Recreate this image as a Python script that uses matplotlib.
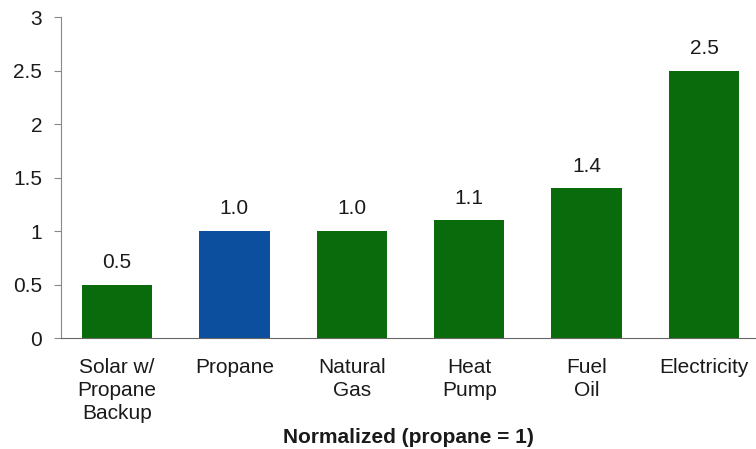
import numpy as np
import matplotlib
matplotlib.use("Agg")
from matplotlib import pyplot as plt

categories = ["Solar w/\nPropane\nBackup", "Propane", "Natural\nGas", "Heat\nPump", "Fuel\nOil", "Electricity"]
values = [0.5, 1.0, 1.0, 1.1, 1.4, 2.5]
value_labels = ["0.5", "1.0", "1.0", "1.1", "1.4", "2.5"]
yticks = [0, 0.5, 1, 1.5, 2, 2.5, 3]
ytick_labels = ["0", "0.5", "1", "1.5", "2", "2.5", "3"]

plt.rcParams['font.family'] = ['Liberation Sans', 'DejaVu Sans']

green = "#0a6b0c"
blue = "#0b4f9e"
txt = "#1a1a1a"
colors = [blue if c == "Propane" else green for c in categories]

fig = plt.figure(figsize=(7.56, 4.49), dpi=100)
ax = fig.add_axes([0.0807, 0.2472, 0.919, 0.7149])

x = np.arange(len(categories))
ax.bar(x, values, width=0.6, color=colors)
for xi, v, s in zip(x, values, value_labels):
    ax.annotate(s, (xi, v), xytext=(0, 12), textcoords="offset points",
                ha="center", va="baseline", fontsize=15, color=txt)

ax.set_xlim(-0.477, 5.44)
ax.set_ylim(0, 3)
ax.set_yticks(yticks)
ax.set_yticklabels(ytick_labels, fontsize=15, color=txt)
ax.set_xticks(x)
ax.set_xticklabels(categories, fontsize=15, color=txt, linespacing=1.25)
ax.tick_params(axis="x", length=0, pad=14.5)
ax.tick_params(axis="y", length=5, color="#888888", pad=8.5)

for side in ["top", "right"]:
    ax.spines[side].set_visible(False)
ax.spines["left"].set_color("#888888")
ax.spines["bottom"].set_color("#666666")

ax.set_xlabel("Normalized (propane = 1)", fontsize=15, fontweight="bold",
              color=txt, labelpad=4)

fig.savefig("out.png", dpi=100)
